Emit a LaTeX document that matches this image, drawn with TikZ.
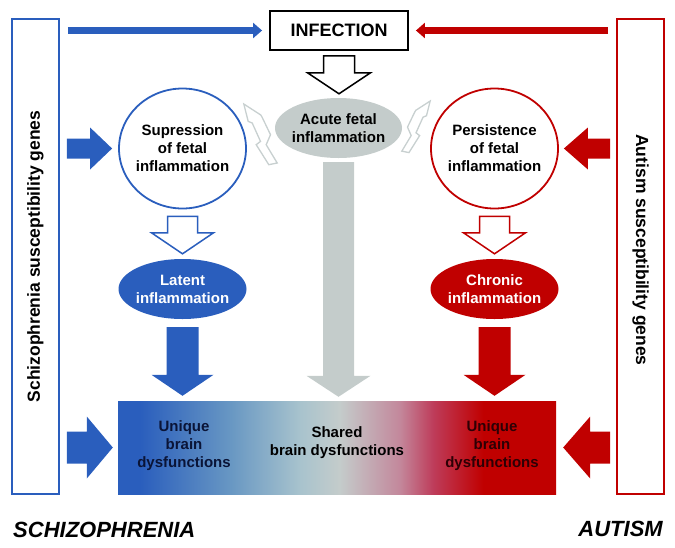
\documentclass[tikz,border=0pt]{standalone}
\usepackage{fontspec}
\setmainfont{Liberation Sans}
\usetikzlibrary{shapes.geometric,arrows.meta,calc}

\definecolor{schblue}{RGB}{42,94,189}
\definecolor{autred}{RGB}{192,0,0}
\definecolor{acutegray}{RGB}{196,204,203}
\definecolor{boltgray}{RGB}{200,208,208}
\definecolor{midblue}{RGB}{105,152,195}
\definecolor{paleblue}{RGB}{168,195,205}
\definecolor{pinkish}{RGB}{195,135,155}
\definecolor{rosered}{RGB}{190,60,90}
\definecolor{navytext}{RGB}{10,20,55}
\definecolor{maroontext}{RGB}{45,0,5}

% gradient of the brain dysfunction bar (25bp = left edge, 75bp = right edge)
\pgfdeclarehorizontalshading{brainbar}{100bp}{color(0bp)=(schblue); color(25bp)=(schblue);
  color(27.5bp)=(schblue); color(38bp)=(midblue); color(45.8bp)=(paleblue);
  color(50.3bp)=(acutegray); color(57.2bp)=(pinkish); color(61bp)=(rosered);
  color(66.7bp)=(autred); color(75bp)=(autred); color(100bp)=(autred)}

% fat arrow pointing down: style, from, to, gap1, gap2, half shaft, half head, head length
\newcommand{\fatdown}[8]{%
  \draw[#1] let \p1=(#2), \p2=(#3) in
    ({\x1-#6},{\y1-#4}) -- ({\x1-#6},{\y2+#5+#8}) -- ({\x1-#7},{\y2+#5+#8}) -- (\x1,{\y2+#5})
    -- ({\x1+#7},{\y2+#5+#8}) -- ({\x1+#6},{\y2+#5+#8}) -- ({\x1+#6},{\y1-#4}) -- cycle;}

% fat arrow pointing sideways: style, from, to, gap1, gap2, half shaft, half head, head length
\newcommand{\fatside}[8]{%
  \draw[#1] let \p1=(#2), \p2=(#3), \n1={sign(\x2-\x1)} in
    ({\x1+(\n1)*#4},{\y1+#6}) -- ({\x2-(\n1)*(#5+#8)},{\y1+#6}) -- ({\x2-(\n1)*(#5+#8)},{\y1+#7})
    -- ({\x2-(\n1)*#5},\y1) -- ({\x2-(\n1)*(#5+#8)},{\y1-#7}) -- ({\x2-(\n1)*(#5+#8)},{\y1-#6})
    -- ({\x1+(\n1)*#4},{\y1-#6}) -- cycle;}

\tikzset{
  bolt/.pic={
    \draw[boltgray, line width=1.3pt, fill=white, line join=miter]
      (0,0) -- (17,11) -- (18.4,13.4) -- (26.7,30.7) -- (22.4,40.7) -- (33.4,59) -- (25,60.7)
      -- (12.4,40.7) -- (16.7,37.4) -- (8.4,19) -- (4.4,17.4) -- cycle;
  }
}

\begin{document}
\begin{tikzpicture}[x=1pt,y=-1pt,
  txt/.style={font=\fontsize{15}{18}\selectfont\bfseries, align=center},
  genebox/.style={draw, line width=1.8pt, minimum width=47pt, minimum height=475pt, inner sep=0pt},
  genetxt/.style={font=\fontsize{17.5}{20}\selectfont\bfseries, inner sep=0pt},
  stage/.style={ellipse, txt, inner xsep=-6pt, inner ysep=0pt, minimum width=127pt, minimum height=60pt},
  disease/.style={font=\fontsize{22}{26}\selectfont\bfseries\itshape, inner sep=0pt},
  thinarrow/.style={line width=7pt, -{Triangle[length=9pt,width=15pt]}, shorten <=8pt, shorten >=7pt},
  hollow/.style={fill=white, line width=1.5pt, line join=miter},
  solid/.style={fill=#1, draw=none}]
\useasboundingbox (0,0) rectangle (675,547);

% gene boxes
\node[genebox, draw=schblue] (schbox) at (35.5,256.5) {};
\node[genebox, draw=autred] (autbox) at (640.5,256.5) {};
\node[genetxt, rotate=90] (schgenes) at (schbox) {Schizophrenia susceptibility genes};
\node[genetxt, rotate=-90] (autgenes) at (640.5,250) {Autism susceptibility genes};

% infection and the inflammation stages
\node[draw, line width=1.8pt, minimum width=138pt, minimum height=39pt,
  font=\fontsize{18}{21}\selectfont\bfseries] (infection) at (339,30.5) {INFECTION};
\node[stage, fill=acutegray] (acute) at (338.5,128) {Acute fetal\\inflammation};
\node[stage, draw=schblue, line width=1.8pt, minimum height=120pt] (supp) at (182.5,148.5) {Supression\\of fetal\\inflammation};
\node[stage, draw=autred, line width=1.8pt, minimum height=120pt] (pers) at (494.5,148.5) {Persistence\\of fetal\\inflammation};
\node[stage, fill=schblue, text=white, minimum width=128pt] (latent) at (182.5,289) {Latent\\inflammation};
\node[stage, fill=autred, text=white, minimum width=128pt] (chronic) at (494.5,289) {Chronic\\inflammation};

% brain dysfunctions
\node[shading=brainbar, minimum width=438pt, minimum height=93pt, inner sep=0pt] (bar) at (337,447.5) {};
\node[txt, text=navytext] (uniqsch) at (184,446) {Unique\\brain\\dysfunctions};
\node[txt] (shared) at (337,443) {Shared\\brain dysfunctions};
\node[txt, text=maroontext] (uniqaut) at (492,446) {Unique\\brain\\dysfunctions};

\node[disease, anchor=west] (schlabel) at (13,529.5) {SCHIZOPHRENIA};
\node[disease, anchor=east] (autlabel) at (663,529) {AUTISM};

% arrows to the infection
\draw[thinarrow, schblue] (schbox.east |- infection.west) -- (infection.west);
\draw[thinarrow, autred] (autbox.west |- infection.east) -- (infection.east);

% hollow arrows
\fatdown{hollow, draw=black}{infection.south}{acute.north}{5pt}{4pt}{15.5pt}{31.5pt}{21pt}
\fatdown{hollow, draw=schblue}{supp.south}{latent.north}{7pt}{5pt}{15pt}{31pt}{21pt}
\fatdown{hollow, draw=autred}{pers.south}{chronic.north}{7pt}{5pt}{15pt}{31pt}{21pt}

% solid arrows to the bar
\fatdown{solid=schblue}{latent.south}{bar.north}{8pt}{5pt}{16pt}{31pt}{21pt}
\fatdown{solid=autred}{chronic.south}{bar.north}{8pt}{5pt}{16pt}{31pt}{21pt}
\fatdown{solid=acutegray}{acute.south}{bar.north}{4pt}{4pt}{15.5pt}{32pt}{21pt}

% gene arrows
\fatside{solid=schblue}{schbox.east |- supp.west}{supp.west}{7pt}{6pt}{10pt}{21pt}{22pt}
\fatside{solid=autred}{autbox.west |- pers.east}{pers.east}{6pt}{5pt}{10pt}{21pt}{24pt}
\fatside{solid=schblue}{schbox.east |- bar.west}{bar.west}{7pt}{5pt}{16pt}{31pt}{26pt}
\fatside{solid=autred}{autbox.west |- bar.east}{bar.east}{6pt}{7pt}{16pt}{31pt}{27pt}

% lightning arrows from the acute inflammation
\pic at ($(acute.west)+(-31,-24)$) {bolt};
\pic[xscale=-0.85, yscale=0.85] at ($(acute.east)+(28,-27)$) {bolt};
\end{tikzpicture}
\end{document}
